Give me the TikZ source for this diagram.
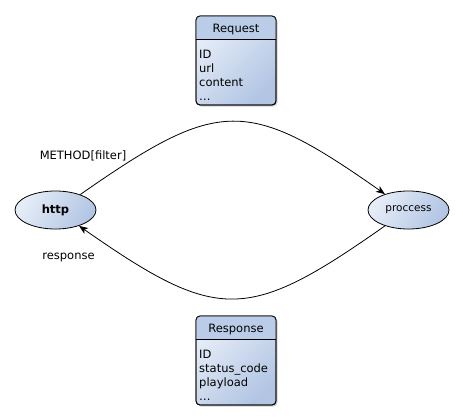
\documentclass[tikz,border=0pt]{standalone}
\usepackage{fontspec}
\setmainfont{DejaVu Sans}
\usepackage{tikz}
\usetikzlibrary{shapes,arrows.meta,shadows}
\definecolor{boxlight}{RGB}{230,237,248}
\definecolor{boxdark}{RGB}{178,197,227}
\definecolor{boxhead}{RGB}{186,204,231}
\tikzstyle{classbox} = [draw, line width=0.8pt, rounded corners=4pt, inner sep=0pt, outer sep=0pt,
  minimum width=80pt, minimum height=89pt, top color=boxlight, bottom color=boxdark, shading angle=45,
  drop shadow={shadow xshift=1.5pt, shadow yshift=-1.5pt, fill=black!30, opacity=0.6}]
\tikzstyle{endpoint} = [ellipse, draw, line width=0.8pt, minimum height=38pt, inner sep=0pt,
  top color=boxlight, bottom color=boxdark, shading angle=60]
\tikzstyle{line} = [draw, line width=0.8pt, -{Stealth[length=9pt,width=7pt,inset=2.5pt]}]
\begin{document}
\begin{tikzpicture}[x=1pt, y=-1pt, font=\fontsize{11.5}{14}\selectfont]
  \useasboundingbox (0,0) rectangle (463,420);

  % class boxes
  \node[classbox] (req) at (236,60.5) {};
  \begin{scope}
    \clip[rounded corners=4pt] (req.north west) rectangle (req.south east);
    \fill[boxhead] (req.north west) rectangle ([yshift=-23pt]req.north east);
  \end{scope}
  \draw[line width=0.8pt, rounded corners=4pt] (req.north west) rectangle (req.south east);
  \draw[line width=0.8pt] ([yshift=-23pt]req.north west) -- ([yshift=-23pt]req.north east);
  \node[anchor=base, inner sep=0pt] (reqname) at ([yshift=-16.3pt]req.north) {Request};
  \node[anchor=base west, align=left, inner sep=0pt] (reqattr) at ([xshift=3pt,yshift=-84.3pt]req.north west) {ID\\url\\content\\\dots};

  \node[classbox] (resp) at (236,360.5) {};
  \begin{scope}
    \clip[rounded corners=4pt] (resp.north west) rectangle (resp.south east);
    \fill[boxhead] (resp.north west) rectangle ([yshift=-23pt]resp.north east);
  \end{scope}
  \draw[line width=0.8pt, rounded corners=4pt] (resp.north west) rectangle (resp.south east);
  \draw[line width=0.8pt] ([yshift=-23pt]resp.north west) -- ([yshift=-23pt]resp.north east);
  \node[anchor=base, inner sep=0pt] (respname) at ([yshift=-16.3pt]resp.north) {Response};
  \node[anchor=base west, align=left, inner sep=0pt] (respattr) at ([xshift=3pt,yshift=-84.3pt]resp.north west) {ID\\status\_code\\playload\\\dots};

  % endpoints
  \node[endpoint, minimum width=81pt] (http) at (55.5,210) {\textbf{http}};
  \node[endpoint, minimum width=81pt, font=\fontsize{10.5}{13}\selectfont] (proc) at (408.5,210) {proccess};

  % connectors
  \path[line] (http.32) .. controls +(139,-97) and +(-138,-97) .. (proc.146);
  \path[line] (proc.-146) .. controls +(-138,97) and +(139,97) .. (http.-34);

  \node[anchor=base] (methodlbl) at (83,159.3) {METHOD[filter]};
  \node[anchor=base] (resplbl) at (68.5,259) {response};
\end{tikzpicture}
\end{document}
